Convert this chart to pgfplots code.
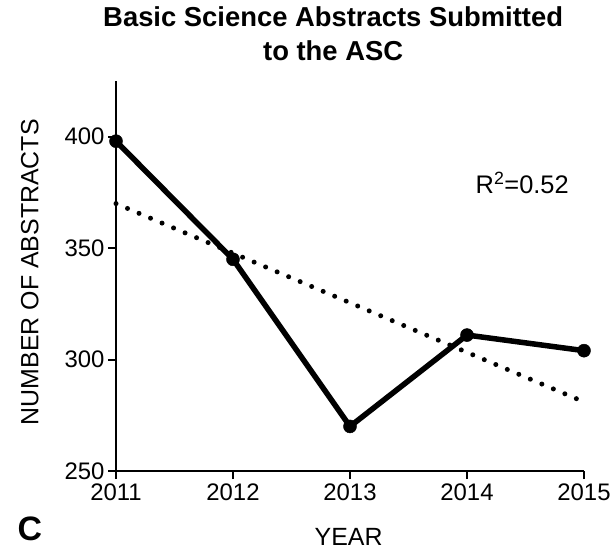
\documentclass[border=0pt]{standalone}
\usepackage{pgfplots}
\pgfplotsset{compat=1.18}
\usepackage{fontspec}
\setmainfont{Liberation Sans}
\begin{document}
\begin{tikzpicture}
\path (0,0) rectangle (615bp,550bp);
\begin{axis}[
  at={(116bp,79bp)}, anchor=south west,
  scale only axis, width=468bp, height=390bp,
  xmin=2011, xmax=2015, ymin=250, ymax=425,
  axis x line=bottom, axis y line=left,
  axis line style={line width=2.2bp, -},
  xtick={2011,2012,2013,2014,2015},
  ytick={250,300,350,400},
  xticklabel style={/pgf/number format/1000 sep={}},
  /pgf/number format/assume math mode=true,
  tick align=outside, major tick length=8bp,
  tick style={line width=2bp, black},
  tick label style={font=\fontsize{24}{27}\selectfont},
  xticklabel shift=1bp,
  yticklabel shift=0bp,
  clip=false,
  title={Basic Science Abstracts Submitted\\to the ASC},
  title style={font=\bfseries\fontsize{27.5}{34}\selectfont, align=center, at={(0.464,1.027)}, anchor=south},
  xlabel={YEAR},
  xlabel style={font=\fontsize{25}{28}\selectfont, at={(axis description cs:0.497,-0.170)}, anchor=center},
  ylabel={NUMBER OF ABSTRACTS},
  ylabel style={font=\fontsize{25}{28}\selectfont, at={(axis description cs:-0.184,0.51)}, anchor=center, rotate=0},
]
\addplot[black, line width=5.5bp, mark=*, mark size=6.5bp, mark options={line width=0.5bp}, line join=round] coordinates {
  (2011,398) (2012,345) (2013,270) (2014,311) (2015,304)
};
\addplot[black, line width=5bp, line cap=round, dash pattern=on 0bp off 12.5bp] coordinates {
  (2011,370) (2015,281)
};
\node[font=\fontsize{25.5}{30}\selectfont] at (axis description cs:0.868,0.738) {R\textsuperscript{2}=0.52};
\node[font=\bfseries\fontsize{34}{38}\selectfont] at (axis description cs:-0.184,-0.149) {C};
\end{axis}
\end{tikzpicture}
\end{document}
